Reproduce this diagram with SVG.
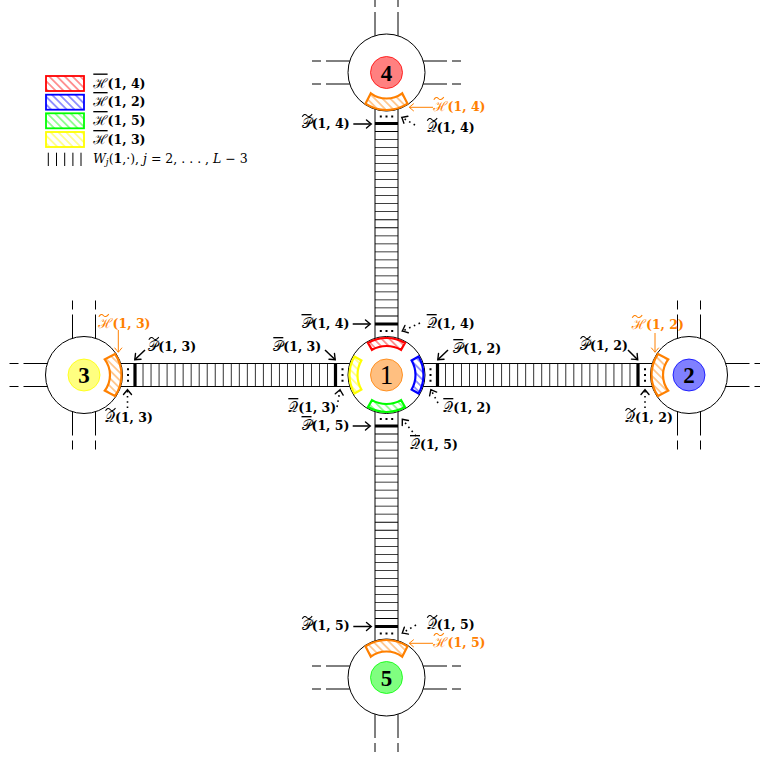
<svg xmlns="http://www.w3.org/2000/svg" width="760" height="760" viewBox="0 0 760 760">
<style>
.rd{fill:none;stroke:#000;stroke-width:1}
.rung{fill:none;stroke:#000;stroke-width:23;stroke-dasharray:0.8 7.22}
.thick{fill:none;stroke:#000;stroke-width:3.2}
.dots{fill:none;stroke:#000;stroke-width:2;stroke-dasharray:2 3.7}
.ring{fill:none;stroke:#000;stroke-width:1}
.arr{fill:none;stroke:#000;stroke-width:1.5;marker-end:url(#ah)}
.darr{fill:none;stroke:#000;stroke-width:1.6;stroke-dasharray:1.6 3.6;marker-end:url(#ah)}
.oarr{fill:none;stroke:#FF8000;stroke-width:1;marker-end:url(#aho)}
.m{font-family:"DejaVu Serif","Noto Sans",serif;font-size:12.5px;fill:#000}
.s{font-size:13.5px}
.o{fill:#FF8000}
.b{font-weight:bold}
.tk{fill:none;stroke:#000;stroke-width:1.05}
.tko{fill:none;stroke:#FF8000;stroke-width:1.05}
.num{font-family:"Liberation Serif",serif;text-anchor:middle}
</style>
<defs>
<marker id="ah" markerUnits="userSpaceOnUse" markerWidth="12" markerHeight="12" viewBox="-6 -6 12 12" refX="0" refY="0" orient="auto" overflow="visible"><path d="M-4.5,-4 Q-1,-1 0.3,0 Q-1,1 -4.5,4" fill="none" stroke="#000" stroke-width="1.4" stroke-linecap="round"/></marker>
<marker id="aho" markerUnits="userSpaceOnUse" markerWidth="12" markerHeight="12" viewBox="-6 -6 12 12" refX="0" refY="0" orient="auto" overflow="visible"><path d="M-4,-3.5 Q-1,-1 0.3,0 Q-1,1 -4,3.5" fill="none" stroke="#FF8000" stroke-width="1" stroke-linecap="round"/></marker>
<pattern id="hR" patternUnits="userSpaceOnUse" width="5.5" height="5.5" patternTransform="rotate(45)"><line x1="0" y1="2.75" x2="5.5" y2="2.75" stroke="#FF0000" stroke-width="0.8"/></pattern>
<pattern id="hB" patternUnits="userSpaceOnUse" width="5.5" height="5.5" patternTransform="rotate(45)"><line x1="0" y1="2.75" x2="5.5" y2="2.75" stroke="#0000FF" stroke-width="0.8"/></pattern>
<pattern id="hG" patternUnits="userSpaceOnUse" width="5.5" height="5.5" patternTransform="rotate(45)"><line x1="0" y1="2.75" x2="5.5" y2="2.75" stroke="#00FF00" stroke-width="0.8"/></pattern>
<pattern id="hY" patternUnits="userSpaceOnUse" width="5.5" height="5.5" patternTransform="rotate(45)"><line x1="0" y1="2.75" x2="5.5" y2="2.75" stroke="#FFFF00" stroke-width="0.8"/></pattern>
<pattern id="hO" patternUnits="userSpaceOnUse" width="5.5" height="5.5" patternTransform="rotate(45)"><line x1="0" y1="2.75" x2="5.5" y2="2.75" stroke="#FF8000" stroke-width="0.8"/></pattern>
<path id="tld" d="M0,1.3Q2.3,-2.6 4.6,0T10,-1.3"/>
</defs>
<rect width="760" height="760" fill="#fff"/>

<g id="connectors">
<path class="rd" d="M375,109.2V338.3M398,109.2V338.3M375,411.7V640.8M398,411.7V640.8M120.7,363.5H349.8M120.7,386.5H349.8M423.2,363.5H652.3M423.2,386.5H652.3"/>
<path class="rung" d="M386.5,123.1V324.4M386.5,425.6V626.9M134.6,375H335.9M437.1,375H638.4"/>
<path class="thick" d="M375,123.5H398M375,324H398M375,426H398M375,626.5H398M135,363.5V386.5M335.5,363.5V386.5M437.5,363.5V386.5M638,363.5V386.5"/>
<path class="dots" d="M379.8,116.5H393.2M379.8,331H393.2M379.8,419H393.2M379.8,633.5H393.2M128,368.3V381.7M342.5,368.3V381.7M430.5,368.3V381.7M645,368.3V381.7"/>
<path class="rd" d="M375,35.8V12M398,35.8V12M349.8,61H326M349.8,84H326M423.2,61H447M423.2,84H447"/>
<path class="rd" d="M375,7V-2M398,7V-2M321,61H312M321,84H312M452,61H461M452,84H461"/>
<path class="rd" d="M375,714.2V738M398,714.2V738M349.8,666H326M349.8,689H326M423.2,666H447M423.2,689H447"/>
<path class="rd" d="M375,743V752M398,743V752M321,666H312M321,689H312M452,666H461M452,689H461"/>
<path class="rd" d="M72.5,338.3V314.5M95.5,338.3V314.5M72.5,411.7V435.5M95.5,411.7V435.5M47.3,363.5H23.5M47.3,386.5H23.5"/>
<path class="rd" d="M72.5,309.5V300.5M95.5,309.5V300.5M72.5,440.5V449.5M95.5,440.5V449.5M18.5,363.5H9.5M18.5,386.5H9.5"/>
<path class="rd" d="M677.5,338.3V314.5M700.5,338.3V314.5M677.5,411.7V435.5M700.5,411.7V435.5M725.7,363.5H749.5M725.7,386.5H749.5"/>
<path class="rd" d="M677.5,309.5V300.5M700.5,309.5V300.5M677.5,440.5V449.5M700.5,440.5V449.5M754.5,363.5H763.5M754.5,386.5H763.5"/>
<path class="arr" d="M352.7,324H370"/>
<path class="arr" d="M325,350L335,359.5"/>
<path class="arr" d="M448,350L438,359.5"/>
<path class="arr" d="M352.7,426H370"/>
<path class="arr" d="M353.3,124H371"/>
<path class="arr" d="M145,350L135,359.5"/>
<path class="arr" d="M628,350L637.5,359.5"/>
<path class="arr" d="M353.3,626.5H371"/>
<path class="darr" d="M420,323L402.5,331"/>
<path class="darr" d="M337,407L340,390"/>
<path class="darr" d="M438,403L431,390"/>
<path class="darr" d="M416,436L402.5,419.5"/>
<path class="darr" d="M415,125L402,117.5"/>
<path class="darr" d="M127.5,408V390"/>
<path class="darr" d="M645,408V390"/>
<path class="darr" d="M416,625L402.5,633"/>
<path class="oarr" d="M433,107.3H409.5"/>
<path class="oarr" d="M118.3,330V352"/>
<path class="oarr" d="M655,333V352"/>
<path class="oarr" d="M433,643.3H409.5"/>
</g>

<g id="node1">
<circle class="ring" cx="386.5" cy="375" r="38.5"/>
<path d="M368,342.96A37,37 0 0 1 405,342.96L401,349.89A29,29 0 0 0 372,349.89Z" fill="url(#hR)" stroke="#FF0000" stroke-width="2.2"/>
<path d="M418.54,356.5A37,37 0 0 1 418.54,393.5L411.61,389.5A29,29 0 0 0 411.61,360.5Z" fill="url(#hB)" stroke="#0000FF" stroke-width="2.2"/>
<path d="M405,407.04A37,37 0 0 1 368,407.04L372,400.11A29,29 0 0 0 401,400.11Z" fill="url(#hG)" stroke="#00FF00" stroke-width="2.2"/>
<path d="M354.46,393.5A37,37 0 0 1 354.46,356.5L361.39,360.5A29,29 0 0 0 361.39,389.5Z" fill="url(#hY)" stroke="#FFFF00" stroke-width="2.2"/>
<circle cx="386.5" cy="375" r="16" fill="#FFBF80" stroke="#FF8000" stroke-width="0.8"/>
<text class="num" x="386.5" y="384" font-size="27">1</text>
</g>

<g id="node4">
<circle class="ring" cx="386.5" cy="72.5" r="38.5"/>
<path d="M407.47,103.59A37.5,37.5 0 0 1 365.53,103.59L370.85,93.26A26,26 0 0 0 402.15,93.26Z" fill="url(#hO)" stroke="#FF8000" stroke-width="2.2"/>
<circle cx="386.5" cy="72.5" r="16" fill="#FF8080" stroke="#FF0000" stroke-width="0.8"/>
<text class="num b" x="386.5" y="80.5" font-size="23">4</text>
</g>

<g id="node5">
<circle class="ring" cx="386.5" cy="677.5" r="38.5"/>
<path d="M365.53,646.41A37.5,37.5 0 0 1 407.47,646.41L402.15,656.74A26,26 0 0 0 370.85,656.74Z" fill="url(#hO)" stroke="#FF8000" stroke-width="2.2"/>
<circle cx="386.5" cy="677.5" r="16" fill="#80FF80" stroke="#00FF00" stroke-width="0.8"/>
<text class="num b" x="386.5" y="685.5" font-size="23">5</text>
</g>

<g id="node3">
<circle class="ring" cx="84" cy="375" r="38.5"/>
<path d="M115.09,354.03A37.5,37.5 0 0 1 115.09,395.97L104.76,390.65A26,26 0 0 0 104.76,359.35Z" fill="url(#hO)" stroke="#FF8000" stroke-width="2.2"/>
<circle cx="84" cy="375" r="16" fill="#FFFF80" stroke="#FFFF00" stroke-width="0.8"/>
<text class="num b" x="84" y="383" font-size="23">3</text>
</g>

<g id="node2">
<circle class="ring" cx="689" cy="375" r="38.5"/>
<path d="M657.91,395.97A37.5,37.5 0 0 1 657.91,354.03L668.24,359.35A26,26 0 0 0 668.24,390.65Z" fill="url(#hO)" stroke="#FF8000" stroke-width="2.2"/>
<circle cx="689" cy="375" r="16" fill="#8080FF" stroke="#0000FF" stroke-width="0.8"/>
<text class="num b" x="689" y="383" font-size="23">2</text>
</g>

<g id="labels">
<text class="m" x="301.5" y="328"><tspan class="s" text-decoration="overline">𝒫</tspan><tspan class="b">(1, 4)</tspan></text>
<text class="m" x="426.7" y="328"><tspan class="s" text-decoration="overline">𝒬</tspan><tspan class="b">(1, 4)</tspan></text>
<text class="m" x="273.3" y="351"><tspan class="s" text-decoration="overline">𝒫</tspan><tspan class="b">(1, 3)</tspan></text>
<text class="m" x="288.3" y="412"><tspan class="s" text-decoration="overline">𝒬</tspan><tspan class="b">(1, 3)</tspan></text>
<text class="m" x="453.3" y="353"><tspan class="s" text-decoration="overline">𝒫</tspan><tspan class="b">(1, 2)</tspan></text>
<text class="m" x="443.3" y="412"><tspan class="s" text-decoration="overline">𝒬</tspan><tspan class="b">(1, 2)</tspan></text>
<text class="m" x="301.5" y="430"><tspan class="s" text-decoration="overline">𝒫</tspan><tspan class="b">(1, 5)</tspan></text>
<text class="m" x="410" y="449"><tspan class="s" text-decoration="overline">𝒬</tspan><tspan class="b">(1, 5)</tspan></text>

<text class="m" x="301.7" y="128"><tspan class="s">𝒫</tspan><tspan class="b">(1, 4)</tspan></text>
<text class="m" x="426.7" y="132"><tspan class="s">𝒬</tspan><tspan class="b">(1, 4)</tspan></text>
<text class="m o" x="433.3" y="111"><tspan class="s">ℋ</tspan><tspan class="b">(1, 4)</tspan></text>
<text class="m o" x="98.3" y="328"><tspan class="s">ℋ</tspan><tspan class="b">(1, 3)</tspan></text>
<text class="m" x="148.3" y="351"><tspan class="s">𝒫</tspan><tspan class="b">(1, 3)</tspan></text>
<text class="m" x="105" y="422"><tspan class="s">𝒬</tspan><tspan class="b">(1, 3)</tspan></text>
<text class="m o" x="631.7" y="329"><tspan class="s">ℋ</tspan><tspan class="b">(1, 2)</tspan></text>
<text class="m" x="580" y="350"><tspan class="s">𝒫</tspan><tspan class="b">(1, 2)</tspan></text>
<text class="m" x="625" y="422"><tspan class="s">𝒬</tspan><tspan class="b">(1, 2)</tspan></text>
<text class="m" x="301.7" y="630"><tspan class="s">𝒫</tspan><tspan class="b">(1, 5)</tspan></text>
<text class="m" x="426.7" y="629"><tspan class="s">𝒬</tspan><tspan class="b">(1, 5)</tspan></text>
<text class="m o" x="433.3" y="647"><tspan class="s">ℋ</tspan><tspan class="b">(1, 5)</tspan></text>

<use href="#tld" class="tk" x="302.2" y="115.5"/>
<use href="#tld" class="tk" x="427.2" y="119.5"/>
<use href="#tld" class="tko" x="433.8" y="98.5"/>
<use href="#tld" class="tko" x="98.8" y="315.5"/>
<use href="#tld" class="tk" x="148.8" y="338.5"/>
<use href="#tld" class="tk" x="105.5" y="409.5"/>
<use href="#tld" class="tko" x="632.2" y="316.5"/>
<use href="#tld" class="tk" x="580.5" y="337.5"/>
<use href="#tld" class="tk" x="625.5" y="409.5"/>
<use href="#tld" class="tk" x="302.2" y="617.5"/>
<use href="#tld" class="tk" x="427.2" y="616.5"/>
<use href="#tld" class="tko" x="433.8" y="634.5"/>
</g>

<g id="legend">
<rect x="46" y="76" width="38" height="15" fill="url(#hR)" stroke="#FF0000" stroke-width="1.8"/>
<rect x="46" y="94.7" width="38" height="15" fill="url(#hB)" stroke="#0000FF" stroke-width="1.8"/>
<rect x="46" y="113.3" width="38" height="15" fill="url(#hG)" stroke="#00FF00" stroke-width="1.8"/>
<rect x="46" y="132" width="38" height="15" fill="url(#hY)" stroke="#FFFF00" stroke-width="1.8"/>
<text class="m" x="93.3" y="87.5"><tspan class="s" text-decoration="overline">ℋ</tspan><tspan class="b">(1, 4)</tspan></text>
<text class="m" x="93.3" y="106"><tspan class="s" text-decoration="overline">ℋ</tspan><tspan class="b">(1, 2)</tspan></text>
<text class="m" x="93.3" y="125"><tspan class="s" text-decoration="overline">ℋ</tspan><tspan class="b">(1, 5)</tspan></text>
<text class="m" x="93.3" y="144"><tspan class="s" text-decoration="overline">ℋ</tspan><tspan class="b">(1, 3)</tspan></text>
<path class="rd" d="M48.3,152.7V166M56.5,152.7V166M64.7,152.7V166M72.9,152.7V166M81,152.7V166"/>
<text class="m" x="93" y="162.5" font-size="12"><tspan font-style="italic">W</tspan><tspan font-style="italic" font-size="9" dy="2.5">j</tspan><tspan dy="-2.5">(</tspan><tspan class="b">1</tspan>,·), <tspan font-style="italic">j</tspan> = 2, . . . , <tspan font-style="italic">L</tspan> − 3</text>
</g>
</svg>
